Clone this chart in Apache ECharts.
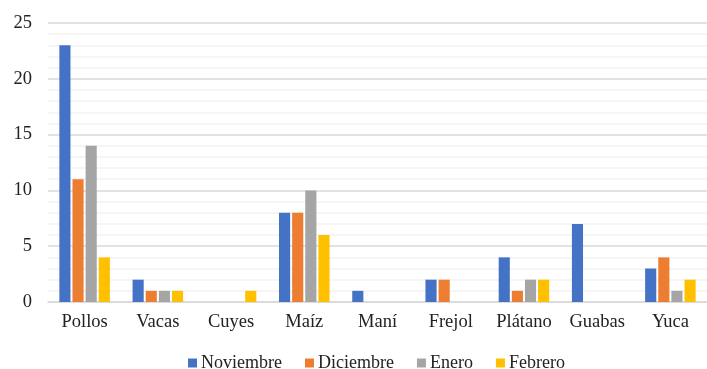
<!DOCTYPE html>
<html>
<head>
<meta charset="utf-8">
<script src="https://cdn.jsdelivr.net/npm/echarts@6/dist/echarts.min.js"></script>
<style>
  html, body { margin: 0; padding: 0; background: #fff; }
  #chart { width: 707px; height: 369px; }
</style>
</head>
<body>
<div id="chart"></div>
<script>
// Monthly counts per product
const categories = ['Pollos', 'Vacas', 'Cuyes', 'Maíz', 'Maní', 'Frejol', 'Plátano', 'Guabas', 'Yuca'];
const noviembre = [23, 2, 0, 8, 1, 2, 4, 7, 3];
const diciembre = [11, 1, 0, 8, 0, 2, 1, 0, 4];
const enero = [14, 1, 0, 10, 0, 0, 2, 0, 1];
const febrero = [4, 1, 1, 6, 0, 0, 2, 0, 2];

const seriesDefs = [
  { name: 'Noviembre', data: noviembre, color: '#4472C4' },
  { name: 'Diciembre', data: diciembre, color: '#ED7D31' },
  { name: 'Enero', data: enero, color: '#A5A5A5' },
  { name: 'Febrero', data: febrero, color: '#FFC000' }
];

const font = "'Liberation Serif', 'Times New Roman', serif";
const chart = echarts.init(document.getElementById('chart'));
chart.setOption({
  animation: false,
  textStyle: { fontFamily: font },
  grid: { left: 48, right: -10, top: 23, bottom: 67 },
  legend: {
    top: 354,
    left: 188,
    padding: 0,
    itemWidth: 9,
    itemHeight: 9,
    itemGap: 23,
    icon: 'rect',
    textStyle: { fontFamily: font, fontSize: 18, color: '#222', padding: [0, 0, 0, -1] },
    data: seriesDefs.map(s => s.name)
  },
  xAxis: {
    type: 'category',
    data: categories,
    axisLine: { lineStyle: { color: '#d9d9d9', width: 1.5 } },
    axisTick: { show: false },
    axisLabel: { fontFamily: font, fontSize: 18.5, color: '#222', margin: 11 }
  },
  yAxis: {
    type: 'value',
    min: 0,
    max: 25,
    interval: 5,
    axisLine: { show: false },
    axisTick: { show: false },
    axisLabel: { fontFamily: font, fontSize: 18.5, color: '#222', margin: 16 },
    splitLine: { lineStyle: { color: '#d9d9d9', width: 1.5 } },
    minorTick: { show: false, splitNumber: 5 },
    minorSplitLine: { show: true, lineStyle: { color: '#f2f2f2', width: 1.5 } }
  },
  series: seriesDefs.map(s => ({
    name: s.name,
    type: 'bar',
    data: s.data,
    barGap: '18%',
    barCategoryGap: '31%',
    itemStyle: { color: s.color }
  }))
});
</script>
</body>
</html>
